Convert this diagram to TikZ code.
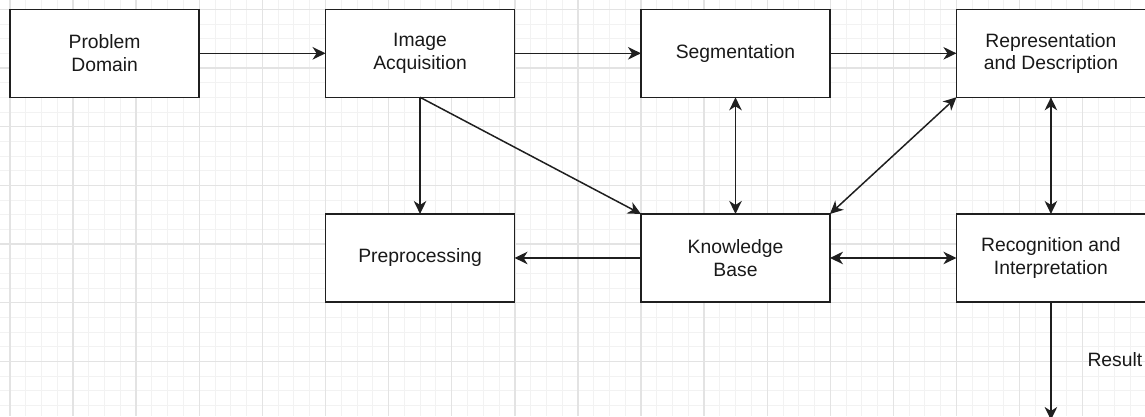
\documentclass[tikz,border=0pt]{standalone}
\usepackage{fontspec}
\setmainfont{Liberation Sans}
\usetikzlibrary{arrows.meta,positioning}
\definecolor{minorgrey}{gray}{0.95}
\definecolor{majorgrey}{gray}{0.89}
\definecolor{boxline}{gray}{0.12}

\begin{document}
\begin{tikzpicture}[x=0.02cm,y=-0.02cm,node distance=2.334cm and 2.53cm,font=\fontsize{11}{12.8}\selectfont]

\tikzset{stagebox/.style={draw=boxline,line width=0.85pt,fill=white,text=black!90,minimum width=3.78cm,minimum height=1.76cm,inner sep=0pt,outer sep=0pt,align=center},
flow/.style={draw=boxline,line width=0.85pt,-{Stealth[length=2.6mm,width=2.5mm,inset=0.8mm]}},
twoway/.style={flow,{Stealth[length=2.6mm,width=2.5mm,inset=0.8mm]}-{Stealth[length=2.6mm,width=2.5mm,inset=0.8mm]}}}

% Page and grid
\useasboundingbox[fill=white] (0,0) rectangle (1145,416);
\clip (0,0) rectangle (1145,416);
\foreach \i in {0,...,72} \draw[minorgrey,line width=0.55pt] ({10+15.775*\i},0) -- ++(0,416);
\foreach \j in {0,...,27} \draw[minorgrey,line width=0.55pt] (0,{9.33+14.667*\j}) -- ++(1145,0);
\foreach \i in {0,...,18} \draw[majorgrey,line width=0.8pt] ({10+63.1*\i},0) -- ++(0,416); % major lines
\foreach \j in {0,...,7} \draw[majorgrey,line width=0.8pt] (0,{9.33+58.667*\j}) -- ++(1145,0);

% Top row
\node[stagebox] (domain) at (104.6,53.3) {Problem\\Domain};
\node[stagebox,right=of domain] (acquire) {Image\\Acquisition};
\node[stagebox,right=of acquire] (segment) {Segmentation};
\node[stagebox,right=of segment] (represent) {Representation\\and Description};

% Bottom row
\node[stagebox,below=of acquire] (preproc) {Preprocessing};
\node[stagebox,below=of segment] (knowledge) {Knowledge\\Base};
\node[stagebox,below=of represent] (recog) {Recognition and\\Interpretation};

% Connectors
\draw[flow] (domain) -- (acquire);
\draw[flow] (acquire) -- (segment);
\draw[flow] (segment) -- (represent);
\draw[flow] (acquire) -- (preproc);
\draw[flow] (acquire.south) -- (knowledge.north west);
\draw[twoway] (segment) -- (knowledge);
\draw[twoway] (represent.south west) -- (knowledge.north east);
\draw[twoway] (represent) -- (recog);
\draw[flow] (knowledge) -- (preproc);
\draw[twoway] (knowledge) -- (recog);

% Output
\coordinate (resultEnd) at (1050,420);
\draw[flow] (recog.south) -- (recog.south |- resultEnd) node[pos=0.49,right=0.6cm,text=black!90] (result) {Result};

\end{tikzpicture}
\end{document}
